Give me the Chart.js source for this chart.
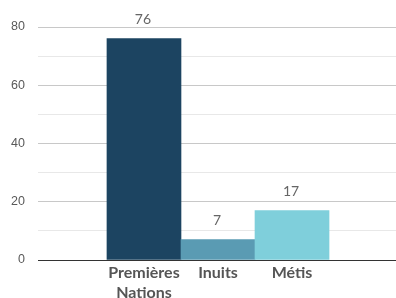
<!DOCTYPE html>
<html><head><meta charset="utf-8">
<script src="https://cdn.jsdelivr.net/npm/chart.js@4"></script>
<style>html,body{margin:0;padding:0;overflow:hidden;background:#fff}</style>
</head><body><canvas id="c" width="396" height="310" style="display:block"></canvas>
<script>
const categories = ['Premières Nations', 'Inuits', 'Métis'];
const values = [76, 7, 17];
const barColors = ['#1c4461', '#5a9bb3', '#7fcfdb'];
const yMin = 0, yMax = 80, yStep = 10, yLabelStep = 20;

const valueLabels = {
  id: 'valueLabels',
  afterDatasetsDraw(chart) {
    const ctx = chart.ctx;
    const meta = chart.getDatasetMeta(0);
    ctx.save();
    ctx.font = '14px Lato';
    ctx.fillStyle = '#666666';
    ctx.textAlign = 'center';
    ctx.textBaseline = 'alphabetic';
    meta.data.forEach((el, i) => ctx.fillText(String(values[i]), el.x - 1, el.y - 14.5));
    ctx.restore();
  }
};

new Chart(document.getElementById('c'), {
  type: 'bar',
  data: {
    datasets: [{
      data: categories.map((c, i) => ({ x: i, y: values[i] })),
      backgroundColor: barColors,
      borderWidth: 0,
      barPercentage: 1,
      categoryPercentage: 1
    }]
  },
  options: {
    responsive: false,
    animation: false,
    devicePixelRatio: 1,
    layout: { padding: { top: 27, left: 0, right: 0, bottom: 0 } },
    plugins: { legend: { display: false }, tooltip: { enabled: false } },
    scales: {
      x: {
        type: 'linear',
        offset: false,
        min: -1.432,
        max: 3.405,
        afterBuildTicks: s => { s.ticks = categories.map((c, i) => ({ value: i })); },
        afterFit: s => { s.height = 50; },
        ticks: {
          autoSkip: false, maxRotation: 0, minRotation: 0, padding: 3,
          callback: v => categories[v] ? categories[v].split(' ') : '',
          color: '#555555',
          font: { family: 'Lato', size: 16, weight: 'bold', lineHeight: 1.25 }
        },
        grid: { display: false, drawTicks: false, offset: false },
        border: { display: true, color: '#333333', width: 1 }
      },
      y: {
        min: yMin, max: yMax,
        afterFit: s => { s.width = 38; },
        ticks: {
          stepSize: yStep, padding: 13,
          callback: v => (v % yLabelStep === 0 ? v : ''),
          color: '#595959',
          font: { family: 'Liberation Sans', size: 12.5 }
        },
        grid: {
          drawTicks: false,
          color: ctx => ctx.tick.value === 0 ? '#333333' : (ctx.tick.value % yLabelStep === 0 ? '#c8c8c8' : '#e8e8e8')
        },
        border: { display: false }
      }
    }
  },
  plugins: [valueLabels]
});
</script>
</body></html>
